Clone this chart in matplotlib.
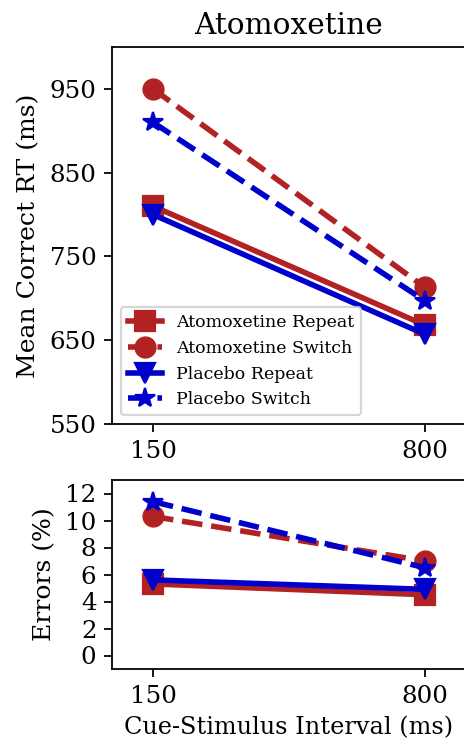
import numpy as np
import matplotlib
matplotlib.use('Agg')
import matplotlib.pyplot as plt

plt.rcParams['font.family'] = 'DejaVu Serif'
plt.rcParams['xtick.labelsize'] = 11
plt.rcParams['ytick.labelsize'] = 11

csi = [150, 800]
rt_atx_rep = [810, 668]
rt_atx_sw = [950, 713]
rt_pla_rep = [800, 657]
rt_pla_sw = [910, 697]

err_atx_rep = [5.3, 4.5]
err_atx_sw = [10.3, 7.0]
err_pla_rep = [5.6, 4.9]
err_pla_sw = [11.4, 6.5]

red = '#B22222'
blue = '#0000CD'

fig = plt.figure(figsize=(464/160, 744/160), dpi=160)
ax1 = fig.add_axes([112/464, 1-424/744, (466-112)/464, (424-47)/744])
ax2 = fig.add_axes([112/464, 1-669/744, (466-112)/464, (669-480)/744])

for ax, d in [(ax1, (rt_atx_rep, rt_atx_sw, rt_pla_rep, rt_pla_sw)),
              (ax2, (err_atx_rep, err_atx_sw, err_pla_rep, err_pla_sw))]:
    ax.plot(csi, d[0], color=red, ls='-', marker='s', lw=2.5, ms=9, label='Atomoxetine Repeat')
    ax.plot(csi, d[1], color=red, ls='--', marker='o', lw=2.5, ms=9, label='Atomoxetine Switch')
    ax.plot(csi, d[2], color=blue, ls='-', marker='v', lw=2.5, ms=9, label='Placebo Repeat')
    ax.plot(csi, d[3], color=blue, ls='--', marker='*', lw=2.5, ms=9, label='Placebo Switch')
    ax.set_xlim(52, 898)
    ax.set_xticks(csi)

ax1.set_ylim(550, 1000)
ax1.set_yticks(np.arange(550, 951, 100))
ax1.set_ylabel('Mean Correct RT (ms)', fontsize=11.3)
ax1.set_title('Atomoxetine', fontsize=13.3)
ax1.legend(loc='lower left', fontsize=7.8)

ax2.set_ylim(-1, 13)
ax2.set_yticks(np.arange(0, 13, 2))
ax2.set_ylabel('Errors (%)', fontsize=11.3)
ax2.set_xlabel('Cue-Stimulus Interval (ms)', fontsize=10.8)

plt.savefig('out.png', dpi=160)
